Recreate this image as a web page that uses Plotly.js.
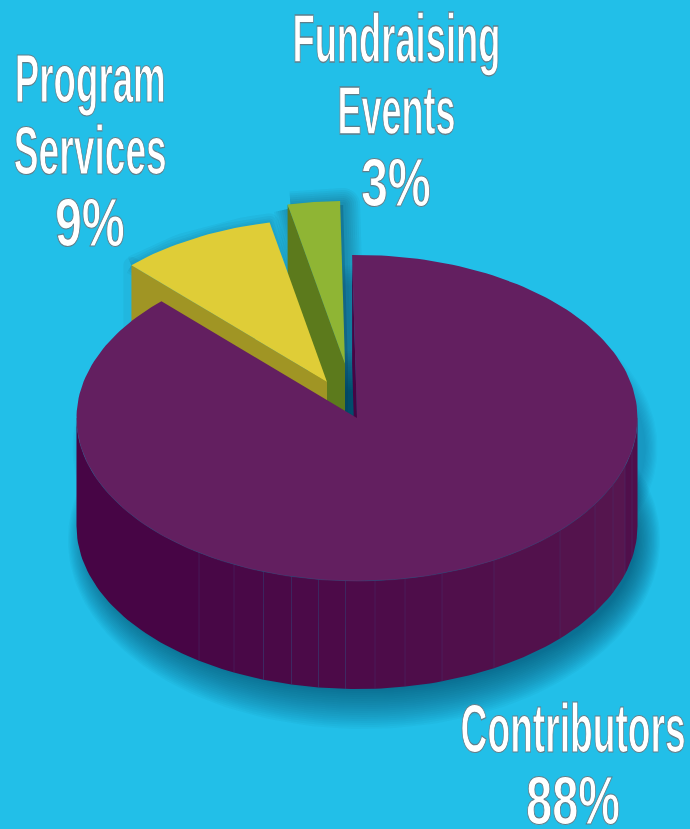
<!DOCTYPE html>
<html>
<head>
<meta charset="utf-8">
<script src="https://cdn.plot.ly/plotly-3.0.1.min.js"></script>
<style>html,body{margin:0;padding:0;background:#22bfe8;overflow:hidden}#chart{width:690px;height:829px}
path.js-line{stroke-linejoin:round !important}</style>
</head>
<body>
<div id="chart"></div>
<script>
// ---- data ----
const categories = ['Contributors', 'Program Services', 'Fundraising Events'];
const shares = [88, 9, 3];
const labelLines = [['Contributors'], ['Program', 'Services'], ['Fundraising', 'Events']];

// ---- styles and geometry ----
const topColors = ['#631f60', '#dfcd37', '#8fb534'];
const faceColors = ['#470545', '#a09524', '#5c7a1c'];
const explode = [[0, 0], [-30, -36], [-12, -54]];
const labelCentre = [573, 90, 396];
const labelFirstBase = [752, 102, 62];
const labelWidths = [[225, 94], [151, 153, 70], [208, 118, 70]];
const cx = 357, cy = 418, rx = 280.5, ry = 163, depth = 108, startDeg = -1;
const labelFontSize = 40, labelStretchY = 1.725;
const facetEdges = [199, 234, 263.5, 291.5, 318.5, 345.5, 375, 405, 442, 494, 560, 595, 613, 625, 632];

const rad = d => d * Math.PI / 180;
const pt = (deg, ox, oy) => [cx + ox + rx * Math.sin(rad(deg)), cy + oy - ry * Math.cos(rad(deg))];
function arc(a, b, ox, oy) {
  const n = Math.max(2, Math.ceil(Math.abs(b - a) / 1.5)), out = [];
  for (let i = 0; i <= n; i++) out.push(pt(a + (b - a) * i / n, ox, oy));
  return out;
}
const traces = [];
function poly(points, color, line) {
  const p = points.concat([points[0]]);
  traces.push({
    type: 'scatter', mode: 'lines', x: p.map(q => q[0]), y: p.map(q => q[1]),
    fill: color ? 'toself' : 'none', fillcolor: color || undefined,
    line: line || {width: 0, color: 'rgba(0,0,0,0)'},
    hoverinfo: 'skip', showlegend: false
  });
}
function halo(points, widths, color) {
  widths.forEach(w => poly(points, null, {width: w, color: color}));
}
function ring(e, ox, oy, color) {
  const out = [];
  for (let d = 0; d < 360; d += 2) {
    out.push([cx + ox + (rx + e * 0.6) * Math.sin(rad(d)), cy + oy - (ry + e) * Math.cos(rad(d))]);
  }
  poly(out, color);
}

// slice spans, clockwise from the start angle
const spans = [];
let acc = startDeg;
shares.forEach(v => { const s = v / 100 * 360; spans.push([acc, acc + s]); acc += s; });

function slice(i) {
  const [a, b] = spans[i], [ox, oy] = explode[i];
  return arc(a, b, ox, oy).concat([[cx + ox, cy + oy]]);
}
function face(i, deg) {
  const [ox, oy] = explode[i];
  const o = pt(deg, ox, oy);
  return [[cx + ox, cy + oy], o, [o[0], o[1] + depth], [cx + ox, cy + oy + depth]];
}

// soft shadows, built up from nested translucent ellipses
for (let e = 26; e >= -14; e -= 2) ring(e, 7, depth + 14, 'rgba(10,55,75,0.036)');
for (let e = 20; e >= 0; e -= 2) ring(e, 8, 30, 'rgba(10,60,85,0.025)');
const gs = slice(2).concat([[cx + explode[2][0], cy + explode[2][1] + depth]]).map(q => [q[0] + 3, q[1] + 4]);
poly(gs, 'rgba(10,60,85,0.25)');
halo(gs, [34, 30, 26, 22, 18, 14, 10, 6], 'rgba(10,60,85,0.05)');
halo(slice(1), [18, 13, 8, 4], 'rgba(10,60,85,0.05)');
poly(face(1, spans[1][0]), null, {width: 16, color: 'rgba(10,60,85,0.06)'});

// fundraising slice
poly(face(2, spans[2][0]), faceColors[2]);
poly(slice(2), topColors[2]);
// program slice
poly(face(1, spans[1][0]), faceColors[1]);
poly(slice(1), topColors[1]);
// contributors: cut face and outer wall
poly(face(0, spans[0][0]), faceColors[0]);
const edgeDeg = facetEdges.map(x => 180 - Math.asin((x - cx) / rx) * 180 / Math.PI).reverse();
const stops = [90].concat(edgeDeg).concat([270]);
const wallC = [[71, 5, 69], [86, 22, 79]];
for (let i = 0; i < stops.length - 1; i++) {
  let t = 1 - Math.max(0, (stops[i] + stops[i + 1]) / 2 - 110) / 110;
  t = Math.max(0, Math.min(1, t));
  if (stops[i] < 105) t = 0.6;
  const c = wallC[0].map((v, k) => Math.round(v + (wallC[1][k] - v) * t));
  poly(arc(stops[i], stops[i + 1], 0, 0).concat(arc(stops[i + 1], stops[i], 0, depth)), 'rgb(' + c.join(',') + ')');
}
const fx = [], fy = [];
edgeDeg.forEach(d => { const p = pt(d, 0, 0); fx.push(p[0], p[0], null); fy.push(p[1], p[1] + depth, null); });
traces.push({type: 'scatter', mode: 'lines', x: fx, y: fy, line: {width: 1, color: 'rgba(70,50,110,0.4)'}, hoverinfo: 'skip', showlegend: false});
// contributors: top
poly(slice(0), topColors[0]);
const rim = arc(90, 270, 0, 0);
traces.push({type: 'scatter', mode: 'lines', x: rim.map(q => q[0]), y: rim.map(q => q[1]), line: {width: 1, color: 'rgba(70,70,120,0.4)'}, hoverinfo: 'skip', showlegend: false});

// labels: one annotation per line
const annotations = [];
const widths = [];
categories.forEach((c, i) => {
  labelLines[i].concat([shares[i] + '%']).forEach((line, j) => {
    annotations.push({
      text: line, x: labelCentre[i], y: labelFirstBase[i] + j * 72 - 24,
      xref: 'x', yref: 'y', xanchor: 'center', yanchor: 'middle', showarrow: false,
      font: {family: '"Liberation Sans Narrow","Liberation Sans",sans-serif', size: labelFontSize, color: '#ffffff', weight: 700}
    });
    widths.push(labelWidths[i][j]);
  });
});

const layout = {
  width: 690, height: 829, margin: {l: 0, r: 0, t: 0, b: 0},
  paper_bgcolor: '#22bfe8', plot_bgcolor: '#22bfe8', showlegend: false,
  xaxis: {range: [0, 690], visible: false, fixedrange: true},
  yaxis: {range: [829, 0], visible: false, fixedrange: true},
  annotations: annotations
};
Plotly.newPlot('chart', traces, layout, {displayModeBar: false, staticPlot: true}).then(gd => {
  gd.querySelectorAll('.annotation').forEach(a => {
    const t = a.querySelector('.annotation-text');
    if (!t) return;
    const b = t.getBBox(), mx = b.x + b.width / 2, my = b.y + b.height / 2;
    const sx = widths[+a.getAttribute('data-index')] / b.width;
    t.setAttribute('transform', `translate(${mx},${my}) scale(${sx},${labelStretchY}) translate(${-mx},${-my})`);
    t.style.stroke = '#5f7f8c';
    t.style.strokeWidth = '1px';
    t.style.vectorEffect = 'non-scaling-stroke';
  });
});
</script>
</body>
</html>
